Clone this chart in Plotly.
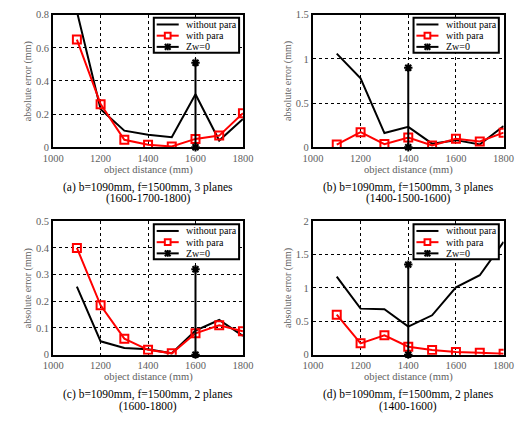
import plotly.graph_objects as go

x_dist = [1100, 1200, 1300, 1400, 1500, 1600, 1700, 1800]

a_without = [0.82, 0.23, 0.10, 0.075, 0.06, 0.32, 0.04, 0.17]
a_with = [0.65, 0.26, 0.045, 0.015, 0.005, 0.05, 0.07, 0.205]
a_zw_x = [1600, 1600]
a_zw_y = [0.0, 0.51]

b_without = [1.06, 0.78, 0.16, 0.23, 0.04, 0.08, 0.03, 0.24]
b_with = [0.03, 0.17, 0.035, 0.11, 0.02, 0.095, 0.065, 0.165]
b_zw_x = [1400, 1400]
b_zw_y = [0.0, 0.90]

c_without = [0.255, 0.05, 0.025, 0.02, 0.005, 0.09, 0.13, 0.07]
c_with = [0.40, 0.185, 0.06, 0.018, 0.005, 0.08, 0.11, 0.088]
c_zw_x = [1600, 1600]
c_zw_y = [0.0, 0.32]

d_without = [1.17, 0.69, 0.68, 0.42, 0.59, 1.01, 1.19, 1.69]
d_with = [0.60, 0.17, 0.29, 0.12, 0.07, 0.04, 0.03, 0.015]
d_zw_x = [1400, 1400]
d_zw_y = [0.0, 1.35]

y_ranges = [[0, 0.8], [0, 1.5], [0, 0.5], [0, 2]]
y_dticks = [0.2, 0.5, 0.1, 0.5]
captions = [
    ("(a) b=1090mm, f=1500mm, 3 planes", "(1600-1700-1800)"),
    ("(b) b=1090mm, f=1500mm, 3 planes", "(1400-1500-1600)"),
    ("(c) b=1090mm, f=1500mm, 2 planes", "(1600-1800)"),
    ("(d) b=1090mm, f=1500mm, 2 planes", "(1400-1600)"),
]
legend_names = ["without para", "with para", "Zw=0"]

W, H = 529, 423
FONT = "Liberation Serif, Times New Roman, serif"
GRAY = "#606060"

# pixel boxes of plot areas (left, right, top, bottom)
boxes = [(44, 242, 10, 146), (315, 514, 10, 146), (44, 242, 222, 359), (315, 514, 222, 359)]


def px(xp):
    return xp / W


def py(yp):
    return 1 - yp / H


fig = go.Figure()
data = [
    (a_without, a_with, a_zw_x, a_zw_y),
    (b_without, b_with, b_zw_x, b_zw_y),
    (c_without, c_with, c_zw_x, c_zw_y),
    (d_without, d_with, d_zw_x, d_zw_y),
]

layout = dict(
    width=W, height=H, margin=dict(l=0, r=0, t=0, b=0),
    paper_bgcolor="white", plot_bgcolor="white",
    font=dict(family=FONT, color=GRAY, size=10),
    showlegend=False,
)
annotations = []
shapes = []
for i, (wo, wi, zx, zy) in enumerate(data):
    n = "" if i == 0 else str(i + 1)
    xa, ya = "x" + n, "y" + n
    fig.add_trace(go.Scatter(x=x_dist, y=wo, mode="lines", name=legend_names[0],
                             line=dict(color="black", width=2), xaxis=xa, yaxis=ya))
    fig.add_trace(go.Scatter(x=x_dist, y=wi, mode="lines+markers", name=legend_names[1],
                             line=dict(color="#ff0000", width=2),
                             marker=dict(symbol="square-open", size=8, color="#ff0000", line=dict(width=2)),
                             xaxis=xa, yaxis=ya))
    fig.add_trace(go.Scatter(x=zx, y=zy, mode="lines+markers", name=legend_names[2],
                             line=dict(color="black", width=2),
                             marker=dict(symbol="asterisk-open", size=7, color="black", line=dict(width=2)),
                             cliponaxis=False, xaxis=xa, yaxis=ya))
    l, r, t, b = boxes[i]
    axis_common = dict(showline=True, linecolor="black", linewidth=2, mirror=True,
                       showgrid=True, gridcolor="black", griddash="dot", gridwidth=1,
                       zeroline=False, ticks="", ticklen=0,
                       tickfont=dict(family=FONT, size=10.5, color=GRAY))
    layout["xaxis" + n] = dict(domain=[px(l), px(r)], range=[1000, 1800], dtick=200, tick0=1000,
                               anchor=ya, **axis_common)
    layout["yaxis" + n] = dict(domain=[py(b), py(t)], range=y_ranges[i], dtick=y_dticks[i], tick0=0,
                               anchor=xa, **axis_common)
    # axis titles
    annotations.append(dict(x=px((l + r) / 2), y=py(b + 23), xref="paper", yref="paper",
                            xanchor="center", yanchor="middle", showarrow=False,
                            text="object distance (mm)", font=dict(family=FONT, size=10.5, color=GRAY)))
    annotations.append(dict(x=px(l - 26), y=py((t + b) / 2), xref="paper", yref="paper",
                            xanchor="center", yanchor="middle", showarrow=False, textangle=-90,
                            text="absolute error (mm)", font=dict(family=FONT, size=10, color=GRAY)))
    # captions
    for k, line in enumerate(captions[i]):
        annotations.append(dict(x=px((l + r) / 2), y=py(b + 41 + 12 * k), xref="paper", yref="paper",
                                xanchor="center", yanchor="middle", showarrow=False,
                                text=line, font=dict(family=FONT, size=11.5, color="black")))
    # legend box drawn inside the plot area
    L0, T0 = l + 105, t + 3
    shapes.append(dict(type="rect", xref="paper", yref="paper", x0=px(L0), x1=px(L0 + 89),
                       y0=py(T0 + 36), y1=py(T0), line=dict(color="black", width=2), fillcolor="white",
                       layer="above"))
    for k, name in enumerate(legend_names):
        yc = T0 + 7 + 11.5 * k
        color = "#ff0000" if k == 1 else "black"
        shapes.append(dict(type="line", xref="paper", yref="paper", x0=px(L0 + 3), x1=px(L0 + 26),
                           y0=py(yc), y1=py(yc), line=dict(color=color, width=2), layer="above"))
        mx = L0 + 14.5
        if k == 1:
            shapes.append(dict(type="rect", xref="paper", yref="paper", x0=px(mx - 3), x1=px(mx + 3),
                               y0=py(yc + 3), y1=py(yc - 3), line=dict(color=color, width=2),
                               fillcolor="white", layer="above"))
        if k == 2:
            for dx0, dy0, dx1, dy1 in [(-3, -3, 3, 3), (-3, 3, 3, -3), (0, -3.5, 0, 3.5)]:
                shapes.append(dict(type="line", xref="paper", yref="paper", x0=px(mx + dx0), x1=px(mx + dx1),
                                   y0=py(yc + dy0), y1=py(yc + dy1), line=dict(color="black", width=2),
                                   layer="above"))
        annotations.append(dict(x=px(L0 + 32), y=py(yc), xref="paper", yref="paper",
                                xanchor="left", yanchor="middle", showarrow=False,
                                text=name, font=dict(family=FONT, size=10, color="black")))

layout["annotations"] = annotations
layout["shapes"] = shapes
fig.update_layout(**layout)
fig.write_html("out.html", config={"displayModeBar": False},
               post_script="document.body.style.margin='0';document.body.style.overflow='hidden';")
